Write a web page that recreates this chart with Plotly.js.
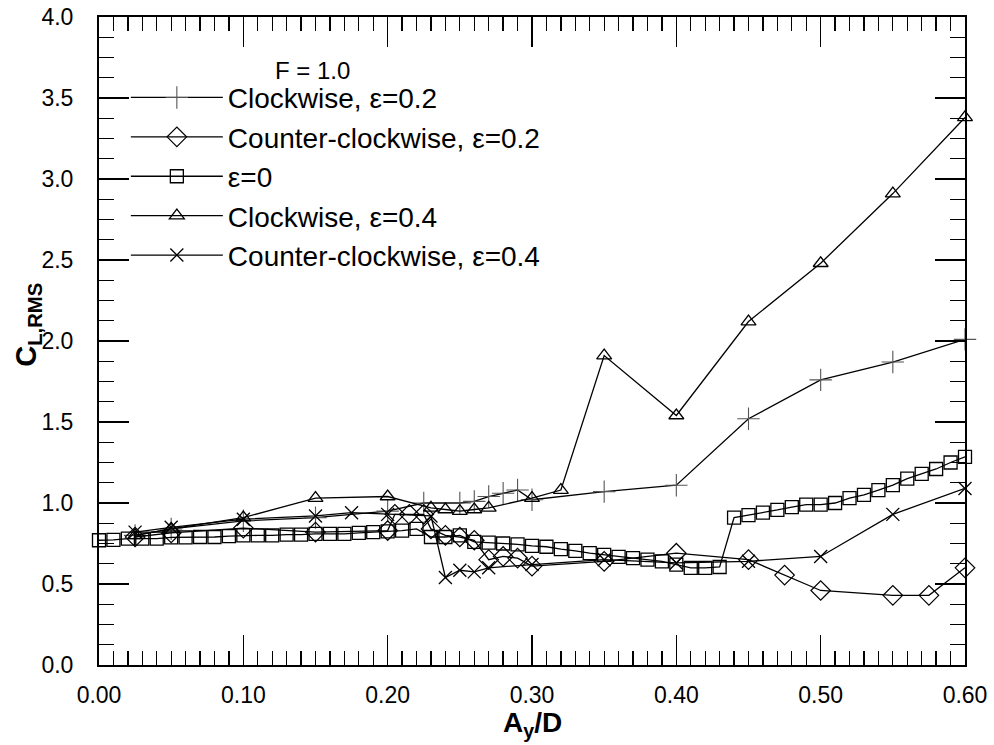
<!DOCTYPE html>
<html>
<head>
<meta charset="utf-8">
<script src="https://cdn.plot.ly/plotly-3.0.1.min.js"></script>
<style>html,body{margin:0;padding:0;background:#fff;}#chart{width:994px;height:745px;}</style>
</head>
<body>
<div id="chart"></div>
<script>
// Clockwise, eps=0.2
const cw02_x = [0.025, 0.05, 0.10, 0.15, 0.20, 0.225, 0.25, 0.26, 0.27, 0.28, 0.29, 0.30, 0.35, 0.40, 0.45, 0.50, 0.55, 0.60];
const cw02_y = [0.80, 0.84, 0.89, 0.91, 0.95, 1.00, 1.00, 1.01, 1.04, 1.06, 1.08, 1.02, 1.07, 1.11, 1.52, 1.76, 1.87, 2.01];
// Counter-clockwise, eps=0.2
const ccw02_x = [0.025, 0.05, 0.10, 0.15, 0.20, 0.205, 0.215, 0.225, 0.23, 0.24, 0.25, 0.26, 0.27, 0.28, 0.29, 0.30, 0.35, 0.40, 0.45, 0.475, 0.50, 0.55, 0.575, 0.60];
const ccw02_y = [0.79, 0.815, 0.845, 0.82, 0.83, 0.93, 0.93, 0.93, 0.84, 0.80, 0.79, 0.77, 0.65, 0.67, 0.66, 0.61, 0.64, 0.69, 0.65, 0.555, 0.46, 0.43, 0.43, 0.60];
// eps=0
const e0_x = [0.00, 0.01, 0.02, 0.03, 0.04, 0.05, 0.06, 0.07, 0.08, 0.09, 0.10, 0.11, 0.12, 0.13, 0.14, 0.15, 0.16, 0.17, 0.18, 0.19, 0.20, 0.21, 0.22, 0.23, 0.24, 0.25, 0.26, 0.27, 0.28, 0.29, 0.30, 0.31, 0.32, 0.33, 0.34, 0.35, 0.36, 0.37, 0.38, 0.39, 0.40, 0.41, 0.42, 0.43, 0.44, 0.45, 0.46, 0.47, 0.48, 0.49, 0.50, 0.51, 0.52, 0.53, 0.54, 0.55, 0.56, 0.57, 0.58, 0.59, 0.60];
const e0_y = [0.77, 0.772, 0.78, 0.78, 0.78, 0.788, 0.788, 0.79, 0.79, 0.796, 0.80, 0.80, 0.80, 0.805, 0.805, 0.81, 0.81, 0.81, 0.815, 0.82, 0.825, 0.83, 0.84, 0.79, 0.79, 0.80, 0.76, 0.755, 0.75, 0.745, 0.735, 0.73, 0.715, 0.705, 0.69, 0.68, 0.667, 0.66, 0.65, 0.64, 0.62, 0.60, 0.60, 0.605, 0.91, 0.925, 0.94, 0.957, 0.975, 0.99, 0.99, 1.00, 1.03, 1.05, 1.08, 1.11, 1.15, 1.18, 1.21, 1.25, 1.285];
// Clockwise, eps=0.4
const cw04_x = [0.025, 0.05, 0.10, 0.15, 0.20, 0.23, 0.24, 0.25, 0.26, 0.27, 0.30, 0.32, 0.35, 0.40, 0.45, 0.50, 0.55, 0.60];
const cw04_y = [0.80, 0.84, 0.91, 1.03, 1.04, 0.97, 0.96, 0.95, 0.96, 0.97, 1.03, 1.08, 1.91, 1.54, 2.12, 2.48, 2.91, 3.38];
// Counter-clockwise, eps=0.4
const ccw04_x = [0.025, 0.05, 0.10, 0.15, 0.175, 0.20, 0.23, 0.24, 0.25, 0.26, 0.27, 0.30, 0.35, 0.40, 0.45, 0.50, 0.55, 0.60];
const ccw04_y = [0.82, 0.85, 0.90, 0.92, 0.94, 0.93, 0.92, 0.54, 0.585, 0.575, 0.60, 0.62, 0.65, 0.63, 0.64, 0.67, 0.93, 1.09];

const seriesNames = ['Clockwise, \u03b5=0.2', 'Counter-clockwise, \u03b5=0.2', '\u03b5=0', 'Clockwise, \u03b5=0.4', 'Counter-clockwise, \u03b5=0.4'];
const xTickVals = [0.0, 0.1, 0.2, 0.3, 0.4, 0.5, 0.6];
const yTickVals = [0.0, 0.5, 1.0, 1.5, 2.0, 2.5, 3.0, 3.5, 4.0];
const xTitle = '<b>A<sub>y</sub>/D</b>';
const yTitle = '<b>C<sub>L,RMS</sub></b>';
const legendTitle = 'F = 1.0';

const FONT = 'Liberation Sans, Arial, sans-serif';
const lineStyle = {color: '#000', width: 1.3};

function tr(x, y, name, symbol, size, mcolor, mwidth) {
  return {
    x: x, y: y, name: name, type: 'scatter', mode: 'lines+markers',
    cliponaxis: false,
    line: lineStyle,
    marker: {symbol: symbol, size: size, color: mcolor, line: {color: mcolor, width: mwidth}}
  };
}

const data = [
  tr(cw02_x, cw02_y, seriesNames[0], 'cross-thin', 16, '#555', 1.1),
  tr(ccw02_x, ccw02_y, seriesNames[1], 'diamond-open', 15, '#000', 1.2),
  tr(e0_x, e0_y, seriesNames[2], 'square-open', 13, '#000', 1.3),
  tr(cw04_x, cw04_y, seriesNames[3], 'triangle-up-open', 13, '#000', 1.3),
  tr(ccw04_x, ccw04_y, seriesNames[4], 'x-thin', 13, '#000', 1.3)
];

const layout = {
  width: 994, height: 745,
  margin: {l: 99, r: 29, t: 17, b: 80},
  paper_bgcolor: '#fff', plot_bgcolor: '#fff',
  font: {family: FONT, color: '#000'},
  showlegend: true,
  legend: {
    x: 0.031, y: 0.914, xanchor: 'left', yanchor: 'top',
    bgcolor: 'rgba(0,0,0,0)', borderwidth: 0,
    font: {family: FONT, size: 28, color: '#000'},
    itemwidth: 92
  },
  annotations: [
    {
      text: legendTitle, xref: 'paper', yref: 'paper', x: 0.246, y: 0.918,
      xanchor: 'center', yanchor: 'middle', showarrow: false,
      font: {family: FONT, size: 24, color: '#000'}
    },
    {
      text: xTitle, xref: 'paper', yref: 'paper', x: 0.5, y: -0.092,
      xanchor: 'center', yanchor: 'middle', showarrow: false,
      font: {family: FONT, size: 28, color: '#000'}
    },
    {
      text: yTitle, xref: 'paper', yref: 'paper', x: -0.082, y: 0.525,
      xanchor: 'center', yanchor: 'middle', showarrow: false, textangle: -90,
      font: {family: FONT, size: 29, color: '#000'}
    }
  ],
  xaxis: {
    range: [0, 0.6],
    tickvals: xTickVals, tickformat: '.2f',
    ticks: 'inside', ticklen: 30, tickwidth: 1.5, tickcolor: '#000',
    minor: {dtick: 0.01, ticks: 'inside', ticklen: 14, tickwidth: 1.3, tickcolor: '#000'},
    showline: true, linecolor: '#000', linewidth: 2, mirror: 'ticks',
    showgrid: false, zeroline: false,
    tickfont: {family: FONT, size: 23, color: '#000'},
    ticklabelstandoff: 8
  },
  yaxis: {
    range: [0, 4],
    tickvals: yTickVals, tickformat: '.1f',
    ticks: 'inside', ticklen: 30, tickwidth: 1.5, tickcolor: '#000',
    minor: {dtick: 0.125, ticks: 'inside', ticklen: 15, tickwidth: 1.3, tickcolor: '#000'},
    showline: true, linecolor: '#000', linewidth: 2, mirror: 'ticks',
    showgrid: false, zeroline: false,
    tickfont: {family: FONT, size: 23, color: '#000'},
    ticklabelstandoff: 19
  }
};

Plotly.newPlot('chart', data, layout, {displayModeBar: false, staticPlot: true});
</script>
</body>
</html>
